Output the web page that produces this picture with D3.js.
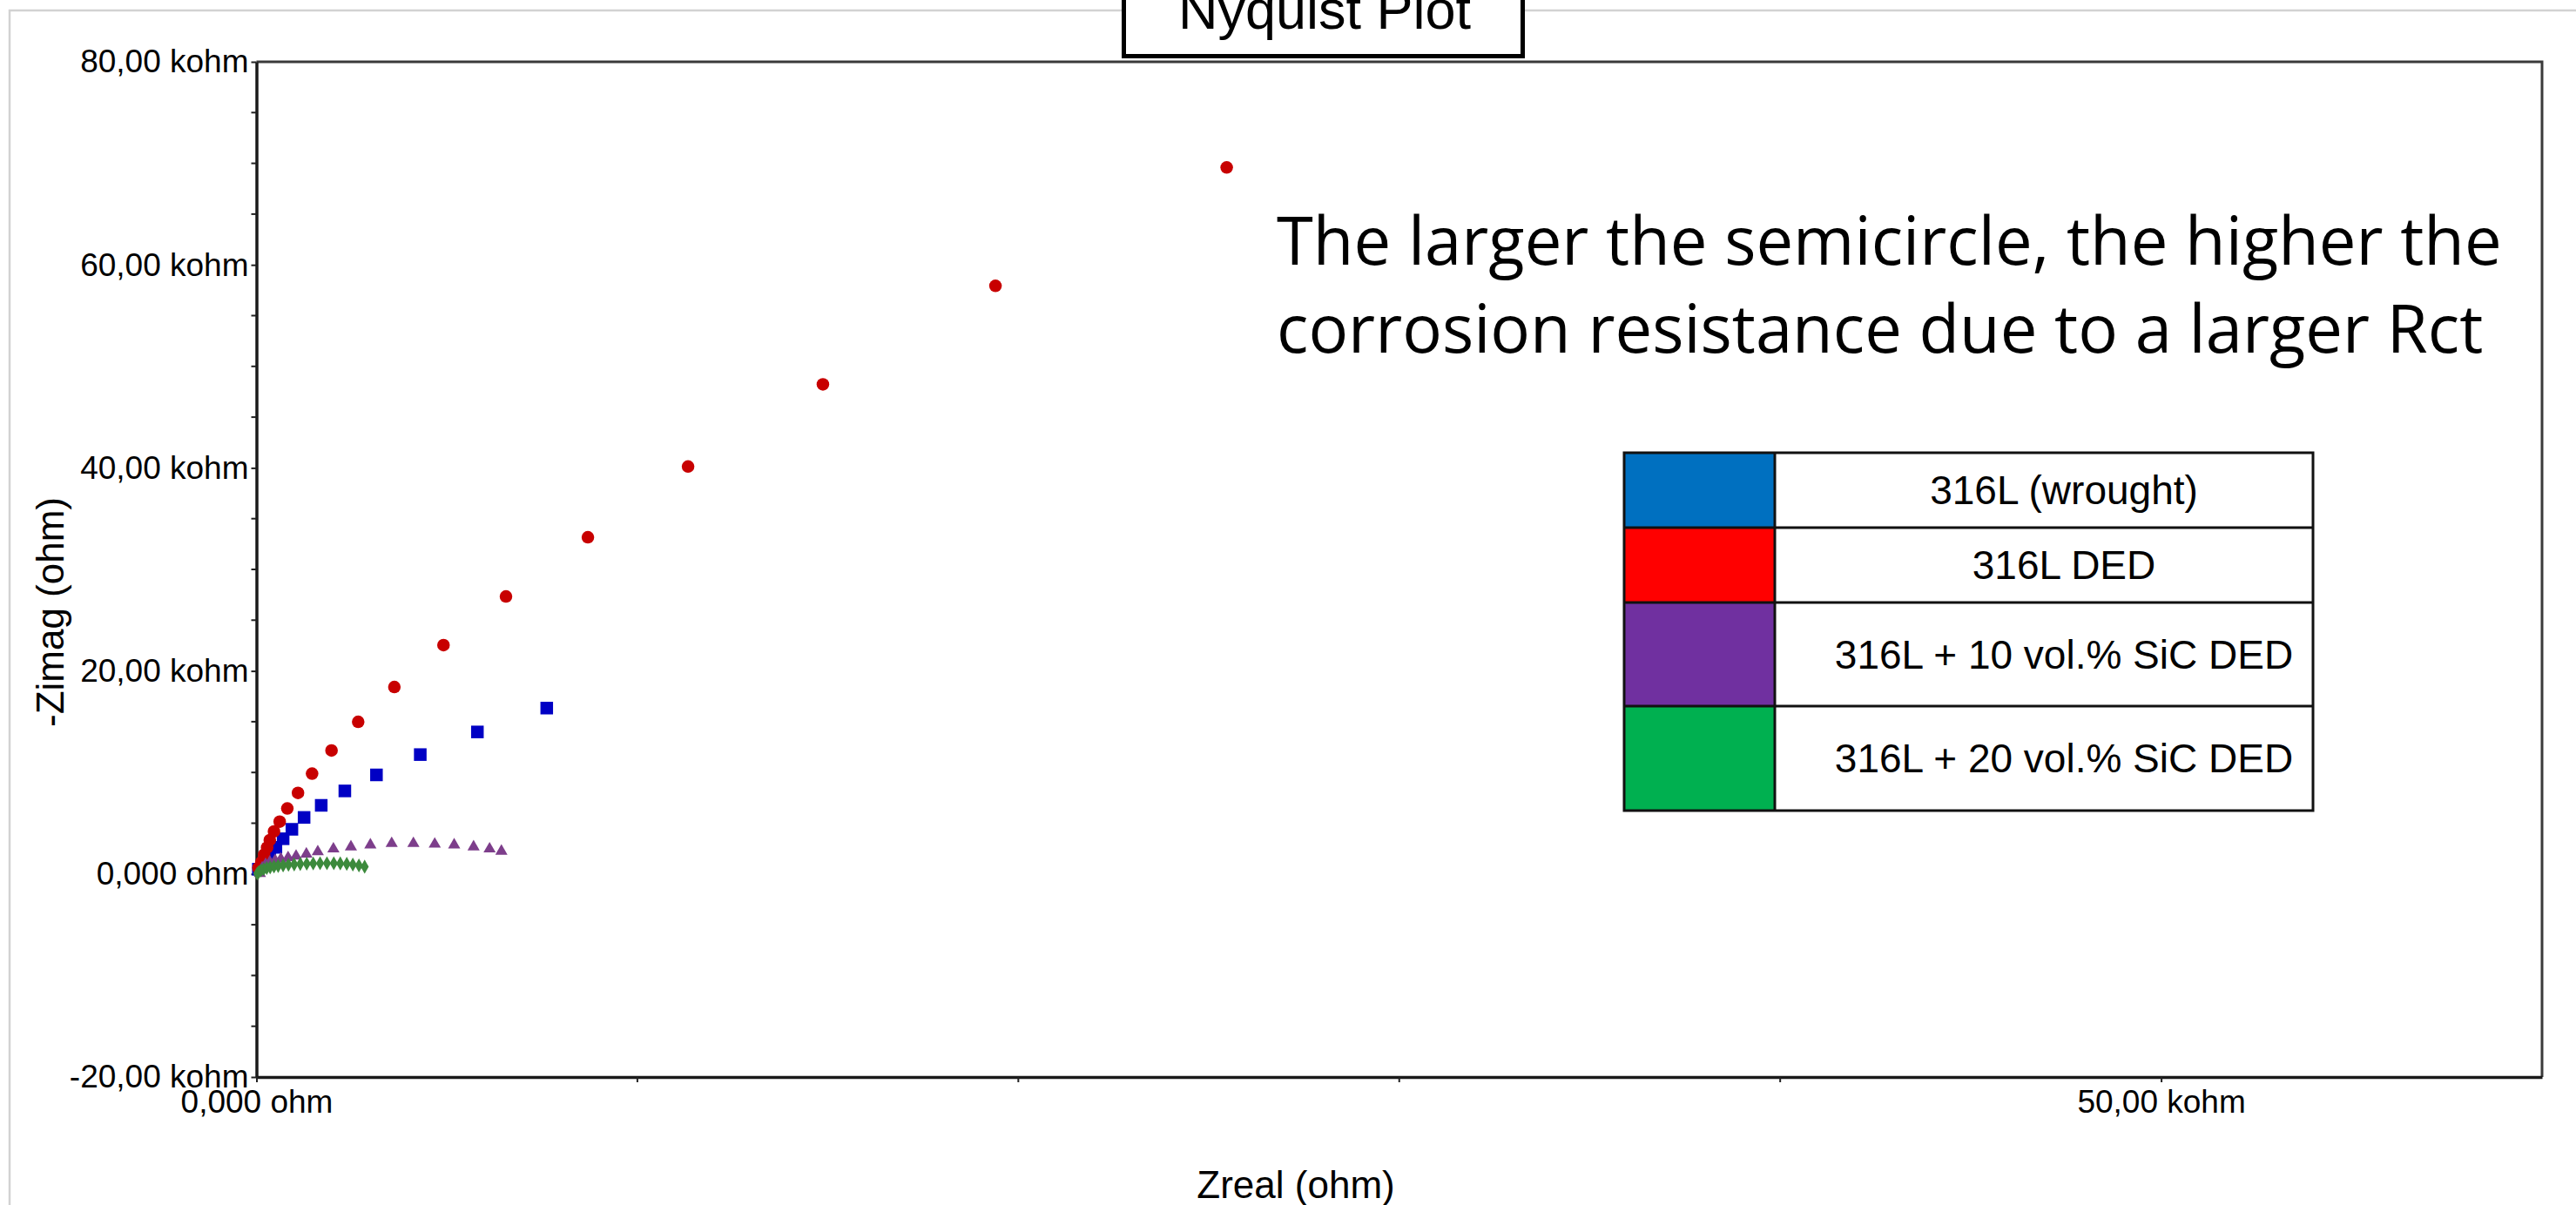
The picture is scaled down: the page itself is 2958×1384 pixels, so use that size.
<!DOCTYPE html>
<html>
<head>
<meta charset="utf-8">
<title>Nyquist Plot</title>
<script src="https://cdn.jsdelivr.net/npm/d3@7"></script>
<style>
  html, body { margin: 0; padding: 0; background: #ffffff; }
  svg { display: block; }
</style>
</head>
<body>
<svg id="chart" width="2958" height="1384"></svg>
<script>
// Impedance data, [Zreal, -Zimag] in kohm
const wroughtZ = [
  [0.05, 0.47], [0.20, 1.04], [0.35, 1.76], [0.51, 2.62], [0.70, 3.47],
  [0.93, 4.40], [1.25, 5.57], [1.70, 6.76], [2.32, 8.18], [3.15, 9.76],
  [4.30, 11.76], [5.80, 13.99], [7.62, 16.34]
];
const dedZ = [
  [0.05, 0.60], [0.13, 1.18], [0.20, 1.90], [0.28, 2.60], [0.35, 3.33],
  [0.46, 4.19], [0.61, 5.16], [0.81, 6.45], [1.09, 7.99], [1.46, 9.88],
  [1.97, 12.17], [2.67, 14.99], [3.62, 18.42], [4.91, 22.54], [6.55, 27.34],
  [8.70, 33.17], [11.33, 40.14], [14.87, 48.23], [19.40, 57.93], [25.47, 69.60]
];
const sic10Z = [
  [0.09, 0.05], [0.15, 0.60], [0.24, 0.95], [0.35, 1.18], [0.49, 1.33],
  [0.64, 1.47], [0.83, 1.61], [1.04, 1.76], [1.31, 1.96], [1.61, 2.19],
  [2.02, 2.47], [2.48, 2.67], [2.99, 2.87], [3.55, 3.00], [4.12, 3.00],
  [4.68, 2.94], [5.19, 2.87], [5.70, 2.67], [6.12, 2.47], [6.43, 2.24]
];
const sic20Z = [
  [0.02, 0.05], [0.06, 0.20], [0.12, 0.35], [0.19, 0.48], [0.27, 0.58],
  [0.36, 0.66], [0.46, 0.73], [0.57, 0.79], [0.70, 0.85], [0.84, 0.90],
  [0.99, 0.94], [1.15, 0.98], [1.32, 1.01], [1.49, 1.03], [1.67, 1.05],
  [1.85, 1.06], [2.03, 1.06], [2.20, 1.04], [2.37, 1.00], [2.53, 0.93],
  [2.69, 0.84], [2.84, 0.72]
];

// Axis ticks (kohm) and their labels
const xMajorTicks = [0, 50];
const xMajorLabels = ["0,000 ohm", "50,00 kohm"];
const xMinorTicks = [10, 20, 30, 40];
const yMajorTicks = [-20, 0, 20, 40, 60, 80];
const yMajorLabels = ["-20,00 kohm", "0,000 ohm", "20,00 kohm", "40,00 kohm", "60,00 kohm", "80,00 kohm"];
const yMinorTicks = d3.range(-15, 80, 5).filter(v => v % 20 !== 0);

// Legend entries
const legendNames = ["316L (wrought)", "316L DED", "316L + 10 vol.% SiC DED", "316L + 20 vol.% SiC DED"];
const legendColors = ["#0070C0", "#FF0000", "#7030A0", "#00B050"];

const titleText = "Nyquist Plot";
const noteLines = ["The larger the semicircle, the higher the", "corrosion resistance due to a larger Rct"];

const svg = d3.select("#chart");
const W = 2958, H = 1384;
const plot = { left: 294.5, right: 2919, top: 71, bottom: 1237 };

svg.append("rect").attr("width", W).attr("height", H).attr("fill", "#ffffff");

// light outer frame of the graph window
svg.append("path")
  .attr("d", `M11,${H + 5} L11,12 L${W + 5},12`)
  .attr("fill", "none").attr("stroke", "#d2d2d2").attr("stroke-width", 2.5);

const x = d3.scaleLinear().domain([0, 60]).range([plot.left, plot.right]);
const y = d3.scaleLinear().domain([-20, 80]).range([plot.bottom, plot.top]);

const tickFont = "'Liberation Sans', Arial, sans-serif";

// plot frame: top and right edges
svg.append("path")
  .attr("d", `M${plot.left},${plot.top} L${plot.right},${plot.top} L${plot.right},${plot.bottom}`)
  .attr("fill", "none").attr("stroke", "#3a3a3a").attr("stroke-width", 3);

// Y axis: major labelled ticks plus minor ticks
const yAxis = d3.axisLeft(y)
  .tickValues(yMajorTicks)
  .tickSize(6).tickSizeOuter(0).tickPadding(3)
  .tickFormat((d, i) => yMajorLabels[i]);
const gy = svg.append("g").attr("transform", `translate(${plot.left},0)`).call(yAxis);
gy.selectAll("text").attr("font-size", 37).attr("font-family", tickFont).attr("fill", "#000");
gy.append("g").selectAll("line").data(yMinorTicks).join("line")
  .attr("x1", -6).attr("x2", 0).attr("y1", d => y(d)).attr("y2", d => y(d))
  .attr("stroke", "#222").attr("stroke-width", 2);

// X axis
const xAxis = d3.axisBottom(x)
  .tickValues(xMajorTicks)
  .tickSize(6).tickSizeOuter(0).tickPadding(9)
  .tickFormat((d, i) => xMajorLabels[i]);
const gx = svg.append("g").attr("transform", `translate(0,${plot.bottom})`).call(xAxis);
gx.selectAll("text").attr("font-size", 37).attr("font-family", tickFont).attr("fill", "#000");
gx.append("g").selectAll("line").data(xMinorTicks).join("line")
  .attr("x1", d => x(d)).attr("x2", d => x(d)).attr("y1", 0).attr("y2", 6)
  .attr("stroke", "#222").attr("stroke-width", 2);

[gx, gy].forEach(g => {
  g.select(".domain").attr("stroke", "#1a1a1a").attr("stroke-width", 3.5);
  g.selectAll(".tick line").attr("stroke", "#222").attr("stroke-width", 2);
});

// Axis titles
svg.append("text")
  .attr("x", 1488).attr("y", 1376)
  .attr("text-anchor", "middle")
  .attr("font-family", tickFont).attr("font-size", 44)
  .text("Zreal (ohm)");
svg.append("text")
  .attr("transform", "translate(57,703) rotate(-90)")
  .attr("text-anchor", "middle").attr("dominant-baseline", "central")
  .attr("font-family", tickFont).attr("font-size", 44)
  .text("-Zimag (ohm)");

// Data series
const series = [
  { data: wroughtZ, type: d3.symbolSquare, size: 210, color: "#0000C4" },
  { data: dedZ, type: d3.symbolCircle, size: 165, color: "#C80000" },
  { data: sic10Z, type: d3.symbolTriangle, size: 85, color: "#7D3E8B" },
  { data: sic20Z, type: d3.symbolDiamond, size: 75, color: "#3C8A3C" }
];
const marks = svg.append("g");
series.forEach(s => {
  const sym = d3.symbol().type(s.type).size(s.size);
  marks.append("g").selectAll("path").data(s.data).join("path")
    .attr("transform", d => `translate(${x(d[0])},${y(d[1])})`)
    .attr("d", sym)
    .attr("fill", s.color);
});

// Title box
svg.append("rect")
  .attr("x", 1290.5).attr("y", -20).attr("width", 458).attr("height", 84.5)
  .attr("fill", "#ffffff").attr("stroke", "#000").attr("stroke-width", 5);
svg.append("text")
  .attr("x", 1521).attr("y", 33)
  .attr("text-anchor", "middle")
  .attr("font-family", tickFont).attr("font-size", 63)
  .text(titleText);

// Annotation
svg.append("g").selectAll("text").data(noteLines).join("text")
  .attr("x", 1466).attr("y", (d, i) => 304 + i * 101)
  .attr("font-family", "'Open Sans', sans-serif").attr("font-size", 76)
  .attr("fill", "#000")
  .text(d => d);

// Legend table
const legend = { left: 1865, swatchRight: 2038, right: 2656, rows: [520, 606, 692, 811, 931] };
const lg = svg.append("g");
legendNames.forEach((name, i) => {
  const y0 = legend.rows[i], y1 = legend.rows[i + 1];
  lg.append("rect")
    .attr("x", legend.left).attr("y", y0)
    .attr("width", legend.swatchRight - legend.left).attr("height", y1 - y0)
    .attr("fill", legendColors[i]);
  lg.append("text")
    .attr("x", 2370).attr("y", (y0 + y1) / 2)
    .attr("text-anchor", "middle").attr("dominant-baseline", "central")
    .attr("font-family", tickFont).attr("font-size", 46)
    .text(name);
});
lg.append("rect")
  .attr("x", legend.left).attr("y", legend.rows[0])
  .attr("width", legend.right - legend.left).attr("height", legend.rows[4] - legend.rows[0])
  .attr("fill", "none").attr("stroke", "#111").attr("stroke-width", 3);
lg.selectAll("line.row").data(legend.rows.slice(1, 4)).join("line")
  .attr("x1", legend.left).attr("x2", legend.right)
  .attr("y1", d => d).attr("y2", d => d)
  .attr("stroke", "#111").attr("stroke-width", 3);
lg.append("line")
  .attr("x1", legend.swatchRight).attr("x2", legend.swatchRight)
  .attr("y1", legend.rows[0]).attr("y2", legend.rows[4])
  .attr("stroke", "#111").attr("stroke-width", 3);
</script>
</body>
</html>
